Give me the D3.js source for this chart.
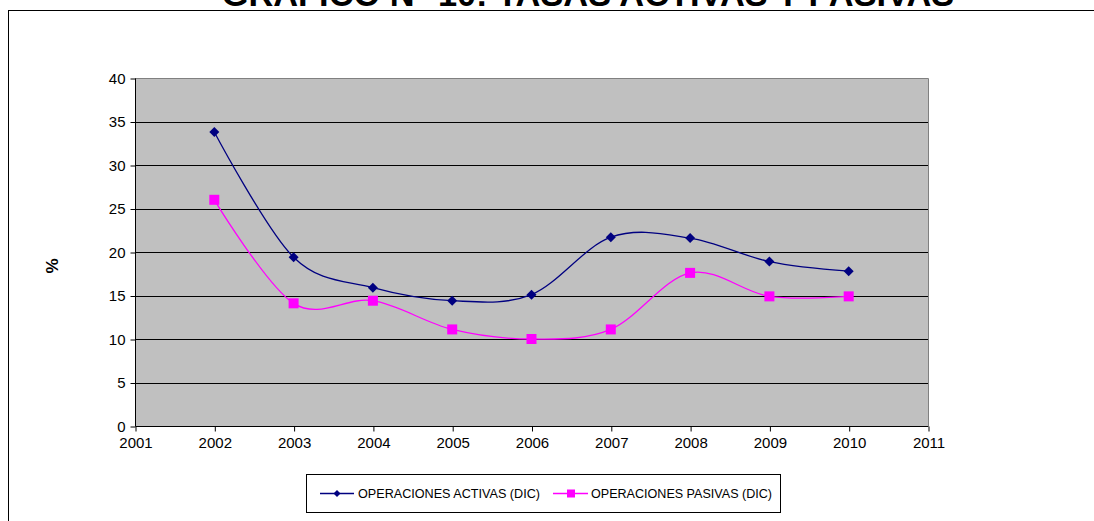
<!DOCTYPE html>
<html><head><meta charset="utf-8">
<script src="https://cdn.jsdelivr.net/npm/d3@7"></script>
<style>
html,body{margin:0;padding:0;background:#fff;overflow:hidden}
svg{display:block;font-family:"Liberation Sans",Arial,sans-serif}
</style></head>
<body>
<svg id="c" width="1094" height="521"></svg>
<script>
const titleText = "GRÁFICO N° 10: TASAS ACTIVAS Y PASIVAS";
const years = [2002, 2003, 2004, 2005, 2006, 2007, 2008, 2009, 2010];
const activas = [33.8, 19.4, 15.9, 14.4, 15.1, 21.7, 21.6, 18.9, 17.8];
const pasivas = [26.0, 14.1, 14.4, 11.1, 10.0, 11.1, 17.6, 14.9, 14.9];
const xTicks = [2001, 2002, 2003, 2004, 2005, 2006, 2007, 2008, 2009, 2010, 2011];
const yTicks = [0, 5, 10, 15, 20, 25, 30, 35, 40];
const seriesNames = ["OPERACIONES ACTIVAS  (DIC)", "OPERACIONES PASIVAS  (DIC)"];

const svg = d3.select("#c");
// outer chart frame
svg.append("rect").attr("x", 8.5).attr("y", 10.5).attr("width", 1200).attr("height", 600)
  .attr("fill", "#fff").attr("stroke", "#000").attr("stroke-width", 1);

// title (mostly cropped at top, as in the reference)
const t = svg.append("text").attr("x", 588).attr("y", 6).attr("text-anchor", "middle")
  .attr("font-weight", "bold").attr("font-size", 26).attr("fill", "#000").text(titleText);
const tl = t.node().getComputedTextLength();
t.attr("font-size", 26 * 733 / tl);

const L = 135, R = 928, T = 78, B = 426;
const x = d3.scaleLinear().domain([2001, 2011]).range([L, R]);
const y = d3.scaleLinear().domain([0, 40]).range([B, T]);

svg.append("rect").attr("x", L).attr("y", T).attr("width", R - L).attr("height", B - T).attr("fill", "#C0C0C0");
svg.append("path").attr("d", `M${L},${T + 0.5}H${R + 0.5}V${B}`).attr("fill", "none").attr("stroke", "#808080").attr("stroke-width", 1);
svg.append("g").selectAll("line").data(yTicks.filter(d => d > 0 && d < 40)).join("line")
  .attr("x1", L).attr("x2", R).attr("y1", d => Math.round(y(d)) + 0.5).attr("y2", d => Math.round(y(d)) + 0.5)
  .attr("stroke", "#000").attr("stroke-width", 1);

const yAxis = d3.axisLeft(y).tickValues(yTicks).tickSize(5).tickSizeOuter(0).tickPadding(5);
const gy = svg.append("g").attr("transform", `translate(${L + 0.5},0.5)`).call(yAxis);
const xAxis = d3.axisBottom(x).tickValues(xTicks).tickFormat(d3.format("d")).tickSize(5).tickSizeOuter(0).tickPadding(6);
const gx = svg.append("g").attr("transform", `translate(0.5,${B + 0.5})`).call(xAxis);
[gy, gx].forEach(g => {
  g.selectAll("path,line").attr("stroke", "#000").attr("stroke-width", 1);
  g.selectAll("text").attr("font-size", 15).attr("fill", "#000").attr("font-family", "Liberation Sans, Arial, sans-serif");
});
gy.select("path.domain").attr("d", `M0,${T}V${B}`);
gx.select("path.domain").attr("d", `M${L},0H${R}`);

svg.append("text").attr("transform", "translate(58,266) rotate(-90)").attr("text-anchor", "middle")
  .attr("font-weight", "bold").attr("font-size", 17).text("%");

const curve = d3.curveCatmullRom.alpha(0);
const line = d3.line().x((d, i) => x(years[i])).y(d => y(d)).curve(curve);

const colA = "#000080", colP = "#FF00FF";
svg.append("path").attr("d", line(activas)).attr("fill", "none").attr("stroke", colA).attr("stroke-width", 1.3);
svg.append("path").attr("d", line(pasivas)).attr("fill", "none").attr("stroke", colP).attr("stroke-width", 1.3);

const diamond = (cx, cy, r) => `M${cx},${cy - r}L${cx + r},${cy}L${cx},${cy + r}L${cx - r},${cy}Z`;
svg.append("g").selectAll("path").data(activas).join("path")
  .attr("d", (d, i) => diamond(x(years[i]), y(d), 5)).attr("fill", colA);
svg.append("g").selectAll("rect").data(pasivas).join("rect")
  .attr("x", (d, i) => x(years[i]) - 5).attr("y", d => y(d) - 5).attr("width", 10).attr("height", 10).attr("fill", colP);

// legend
svg.append("rect").attr("x", 306.5).attr("y", 474.5).attr("width", 474).attr("height", 38)
  .attr("fill", "#fff").attr("stroke", "#000").attr("stroke-width", 1);
const ly = 493.5;
const lg = svg.append("g");
lg.append("line").attr("x1", 320).attr("x2", 354).attr("y1", ly).attr("y2", ly).attr("stroke", colA).attr("stroke-width", 1.3);
lg.append("path").attr("d", diamond(337, ly, 3.5)).attr("fill", colA);
lg.append("text").attr("x", 358).attr("y", ly + 4.5).attr("font-size", 12).attr("textLength", 182)
  .attr("lengthAdjust", "spacingAndGlyphs").text(seriesNames[0]);
lg.append("line").attr("x1", 553).attr("x2", 588).attr("y1", ly).attr("y2", ly).attr("stroke", colP).attr("stroke-width", 1.3);
lg.append("rect").attr("x", 567).attr("y", ly - 4).attr("width", 8).attr("height", 8).attr("fill", colP);
lg.append("text").attr("x", 591).attr("y", ly + 4.5).attr("font-size", 12).attr("textLength", 181)
  .attr("lengthAdjust", "spacingAndGlyphs").text(seriesNames[1]);
</script>
</body></html>
